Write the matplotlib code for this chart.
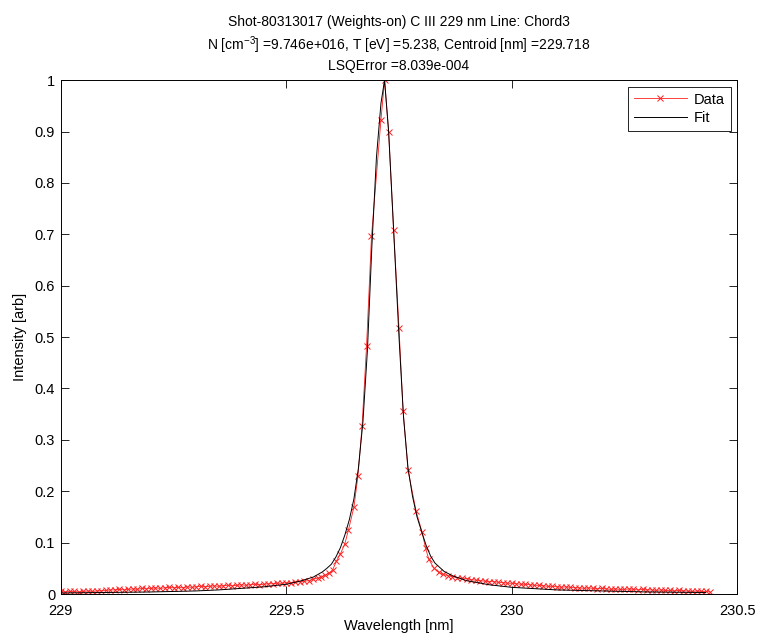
import matplotlib
matplotlib.use('Agg')
import matplotlib.pyplot as plt

plt.rcParams['font.family'] = ['Liberation Sans', 'DejaVu Sans']
plt.rcParams['mathtext.default'] = 'regular'

wavelength = [
    229.00, 229.01, 229.02, 229.03, 229.04, 229.05, 229.06, 229.07, 229.08, 229.09,
    229.10, 229.11, 229.12, 229.13, 229.14, 229.15, 229.16, 229.17, 229.18, 229.19,
    229.20, 229.21, 229.22, 229.23, 229.24, 229.25, 229.26, 229.27, 229.28, 229.29,
    229.30, 229.31, 229.32, 229.33, 229.34, 229.35, 229.36, 229.37, 229.38, 229.39,
    229.40, 229.41, 229.42, 229.43, 229.44, 229.45, 229.46, 229.47, 229.48, 229.49,
    229.50, 229.51, 229.52, 229.53, 229.54,
    229.55, 229.56, 229.57, 229.578, 229.587, 229.594, 229.603, 229.611, 229.620, 229.630,
    229.638, 229.650, 229.659, 229.668, 229.678, 229.689, 229.710, 229.718, 229.727, 229.738,
    229.750, 229.759, 229.770, 229.788, 229.801, 229.809, 229.816, 229.827, 229.838, 229.848,
    229.858, 229.868, 229.878,
    229.89, 229.90, 229.91, 229.92, 229.93, 229.94, 229.95, 229.96, 229.97, 229.98,
    229.99, 230.00, 230.01, 230.02, 230.03, 230.04, 230.05, 230.06, 230.07, 230.08,
    230.09, 230.10, 230.11, 230.12, 230.13, 230.14, 230.15, 230.16, 230.17, 230.18,
    230.19, 230.20, 230.21, 230.22, 230.23, 230.24, 230.25, 230.26, 230.27, 230.28,
    230.29, 230.30, 230.31, 230.32, 230.33, 230.34, 230.35, 230.36, 230.37, 230.38,
    230.39, 230.40, 230.41, 230.42, 230.43, 230.44,
]
intensity = [
    0.005, 0.004, 0.005, 0.005, 0.004, 0.005, 0.006, 0.005, 0.006, 0.006,
    0.007, 0.008, 0.008, 0.009, 0.008, 0.009, 0.010, 0.009, 0.011, 0.010,
    0.011, 0.012, 0.011, 0.012, 0.013, 0.012, 0.013, 0.012, 0.014, 0.013,
    0.014, 0.015, 0.014, 0.015, 0.016, 0.015, 0.016, 0.017, 0.016, 0.017,
    0.018, 0.017, 0.018, 0.019, 0.018, 0.019, 0.020, 0.020, 0.021, 0.021,
    0.022, 0.022, 0.023, 0.024, 0.025,
    0.026, 0.029, 0.031, 0.033, 0.037, 0.040, 0.047, 0.064, 0.078, 0.098,
    0.125, 0.169, 0.230, 0.326, 0.482, 0.696, 0.923, 1.000, 0.899, 0.709,
    0.518, 0.357, 0.241, 0.161, 0.121, 0.089, 0.068, 0.051, 0.042, 0.038,
    0.036, 0.034, 0.032,
    0.031, 0.030, 0.028, 0.027, 0.026, 0.025, 0.024, 0.024, 0.023, 0.022,
    0.021, 0.021, 0.020, 0.019, 0.019, 0.018, 0.017, 0.017, 0.016, 0.015,
    0.015, 0.014, 0.013, 0.014, 0.013, 0.012, 0.012, 0.011, 0.012, 0.011,
    0.010, 0.011, 0.010, 0.009, 0.010, 0.009, 0.009, 0.010, 0.009, 0.008,
    0.009, 0.008, 0.008, 0.007, 0.008, 0.007, 0.007, 0.006, 0.007, 0.006,
    0.006, 0.005, 0.006, 0.005, 0.005, 0.004,
]

# fitted profile
fit_wavelength = [
    229.00, 229.10, 229.20, 229.30, 229.35, 229.40, 229.45, 229.50, 229.53, 229.56,
    229.58, 229.59, 229.60, 229.61, 229.62, 229.63, 229.64, 229.65, 229.66, 229.67,
    229.68, 229.69, 229.70, 229.71, 229.718, 229.727, 229.738, 229.75, 229.76, 229.77,
    229.78, 229.79, 229.80, 229.81, 229.82, 229.83, 229.85, 229.87, 229.90, 229.95,
    230.00, 230.10, 230.20, 230.30, 230.43,
]
fit_intensity = [
    0.002, 0.003, 0.004, 0.006, 0.008, 0.011, 0.014, 0.019, 0.025, 0.033,
    0.043, 0.050, 0.058, 0.072, 0.090, 0.115, 0.145, 0.185, 0.245, 0.335,
    0.475, 0.680, 0.850, 0.955, 1.000, 0.900, 0.710, 0.500, 0.345, 0.245,
    0.190, 0.150, 0.122, 0.095, 0.074, 0.060, 0.044, 0.035, 0.026, 0.018,
    0.013, 0.008, 0.006, 0.004, 0.003,
]

x_ticks = [229, 229.5, 230, 230.5]
x_tick_labels = ['229', '229.5', '230', '230.5']
y_ticks = [0, 0.1, 0.2, 0.3, 0.4, 0.5, 0.6, 0.7, 0.8, 0.9, 1]
y_tick_labels = ['0', '0.1', '0.2', '0.3', '0.4', '0.5', '0.6', '0.7', '0.8', '0.9', '1']

title = ('Shot-80313017 (Weights-on) C III 229 nm Line: Chord3\n'
         'N [cm$^{-3}$] =9.746e+016, T [eV] =5.238, Centroid [nm] =229.718\n'
         'LSQError =8.039e-004')

fig = plt.figure(figsize=(7.6, 6.36), dpi=100)
ax = fig.add_axes([0.080, 0.066, 0.890, 0.808])

ax.plot(wavelength, intensity, color='#ff2020', lw=0.6, marker='x',
        markersize=5, markeredgewidth=0.7, label='Data')
ax.plot(fit_wavelength, fit_intensity, color='black', lw=0.7, label='Fit')

ax.set_xlim(229, 230.5)
ax.set_ylim(0, 1)
ax.set_xticks(x_ticks)
ax.set_xticklabels(x_tick_labels)
ax.set_yticks(y_ticks)
ax.set_yticklabels(y_tick_labels)
ax.tick_params(direction='in', length=6, width=0.6, top=True, right=True,
               labelsize=10.5, colors='black', pad=4)
ax.tick_params(axis='x', pad=7)
for s in ax.spines.values():
    s.set_linewidth(0.7)
    s.set_color('black')

ax.set_xlabel('Wavelength [nm]', fontsize=10.5, labelpad=1)
ax.set_ylabel('Intensity [arb]', fontsize=10.5, labelpad=6)
ax.set_title(title, fontsize=10, linespacing=1.35, pad=7)

leg = ax.legend(loc='upper right', fontsize=10.5, fancybox=False, framealpha=1,
                edgecolor='black', borderpad=0.4, handlelength=3.6,
                handletextpad=0.5, labelspacing=0.3, borderaxespad=0.45)
leg.get_frame().set_linewidth(0.6)

plt.savefig('out.png', dpi=100)
